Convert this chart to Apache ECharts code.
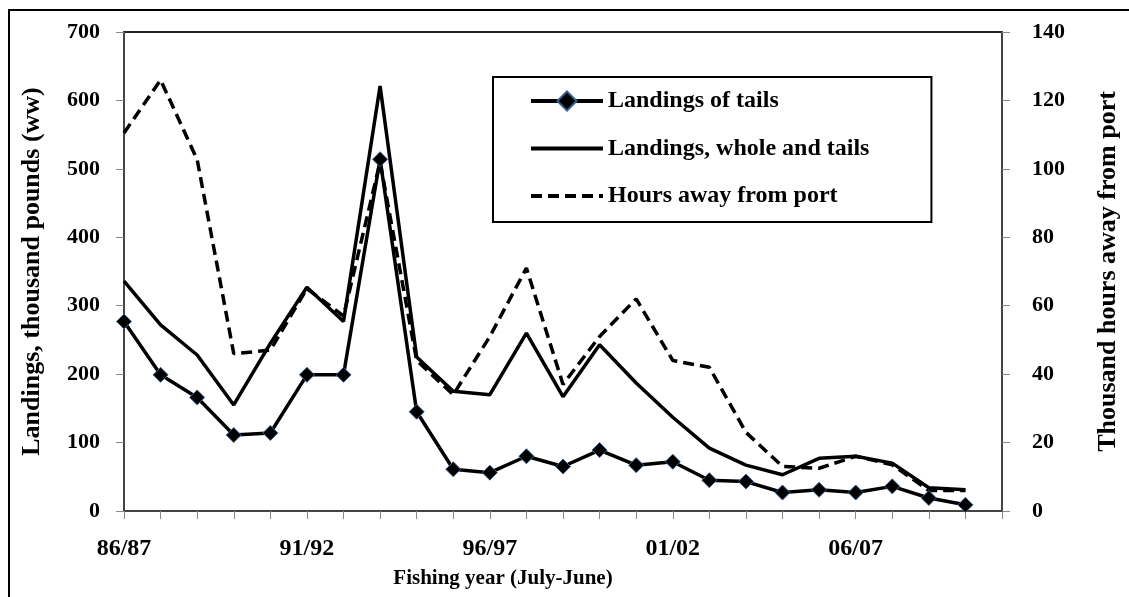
<!DOCTYPE html>
<html>
<head>
<meta charset="utf-8">
<script src="https://cdn.jsdelivr.net/npm/echarts@6/dist/echarts.min.js"></script>
<style>
html,body{margin:0;padding:0;background:#fff;}
#chart{width:1129px;height:597px;}
</style>
</head>
<body>
<div id="chart"></div>
<script>
var categories = ['86/87','87/88','88/89','89/90','90/91','91/92','92/93','93/94','94/95','95/96','96/97','97/98','98/99','99/00','00/01','01/02','02/03','03/04','04/05','05/06','06/07','07/08','08/09','09/10','10/11'];
var tailsLandings = [277,199,166,111,114,199,199,514,145,61,56,80,65,89,67,72,45,43,27,31,27,36,19,9,null];
var wholeLandings = [336,272,228,155,245,327,277,621,225,175,170,260,167,243,187,137,92,67,53,77,80,70,34,31,null];
var hoursAway = [110.5,126,102.7,46,47,65,57,102,44,34,51,71,37,51,62,44,42,23,13,12.5,16,13.5,6,6,null];
var leftTicks = [0,100,200,300,400,500,600,700];
var rightTicks = [0,20,40,60,80,100,120,140];

var FONT = '"Liberation Serif", "Times New Roman", serif';
function tx(size){ return {fontFamily: FONT, fontWeight: 'bold', fontSize: size, color: '#000'}; }
var chart = echarts.init(document.getElementById('chart'), null, {renderer:'canvas'});
chart.setOption({
  backgroundColor: '#fff',
  animation: false,
  graphic: [{
    type: 'polyline',
    shape: {points: [[9,597],[9,10],[1129,10]]},
    style: {stroke: '#000', lineWidth: 2, fill: null},
    silent: true
  }],
  grid: {left: 124, right: 127, top: 32, bottom: 86, show: true, borderColor: '#222', borderWidth: 2, backgroundColor: 'transparent'},
  legend: {
    left: 493, top: 77,
    orient: 'vertical',
    itemWidth: 72, itemHeight: 24, itemGap: 23.5,
    padding: [12, 62, 14, 36],
    borderColor: '#000', borderWidth: 2,
    lineStyle: {width: 4},
    textStyle: tx(24),
    data: [
      {name: 'Landings of tails'},
      {name: 'Landings, whole and tails', itemStyle: {opacity: 0}},
      {name: 'Hours away from port', itemStyle: {opacity: 0}}
    ]
  },
  xAxis: {
    type: 'category', data: categories, boundaryGap: false,
    name: 'Fishing year (July-June)', nameLocation: 'middle', nameGap: 57,
    nameTextStyle: Object.assign({padding: [0, 120, 0, 0]}, tx(21)),
    axisLine: {lineStyle: {color: '#444', width: 2}},
    axisTick: {show: true, interval: 0, length: 8, lineStyle: {color: '#888', width: 1}},
    axisLabel: Object.assign({interval: 4, margin: 26}, tx(24)),
    splitLine: {show: false}
  },
  yAxis: [{
    type: 'value', min: 0, max: 700, interval: 100, position: 'left',
    name: 'Landings, thousand pounds (ww)', nameLocation: 'middle', nameGap: 79, nameRotate: 90,
    nameTextStyle: tx(26),
    axisLine: {show: true, lineStyle: {color: '#444', width: 2}},
    axisTick: {show: true, length: 8, lineStyle: {color: '#888', width: 1}},
    axisLabel: Object.assign({margin: 24}, tx(22)),
    splitLine: {show: false}
  }, {
    type: 'value', min: 0, max: 140, interval: 20, position: 'right',
    name: 'Thousand hours away from port', nameLocation: 'middle', nameGap: 93, nameRotate: 90,
    nameTextStyle: tx(26),
    axisLine: {show: true, lineStyle: {color: '#444', width: 2}},
    axisTick: {show: true, length: 8, lineStyle: {color: '#888', width: 1}},
    axisLabel: Object.assign({margin: 30}, tx(22)),
    splitLine: {show: false}
  }],
  series: [{
    name: 'Hours away from port', type: 'line', yAxisIndex: 1, data: hoursAway,
    showSymbol: false, symbol: 'none',
    lineStyle: {color: '#000', width: 3.5, type: [11, 6]},
    itemStyle: {color: '#000'}, z: 2
  }, {
    name: 'Landings, whole and tails', type: 'line', yAxisIndex: 0, data: wholeLandings,
    showSymbol: false, symbol: 'none',
    lineStyle: {color: '#000', width: 3.5},
    itemStyle: {color: '#000'}, z: 3
  }, {
    name: 'Landings of tails', type: 'line', yAxisIndex: 0, data: tailsLandings,
    symbol: 'diamond', symbolSize: 15, showSymbol: true,
    lineStyle: {color: '#000', width: 3.5},
    itemStyle: {color: '#000', borderColor: '#3a5f8f', borderWidth: 1}, z: 4
  }]
});
</script>
</body>
</html>
